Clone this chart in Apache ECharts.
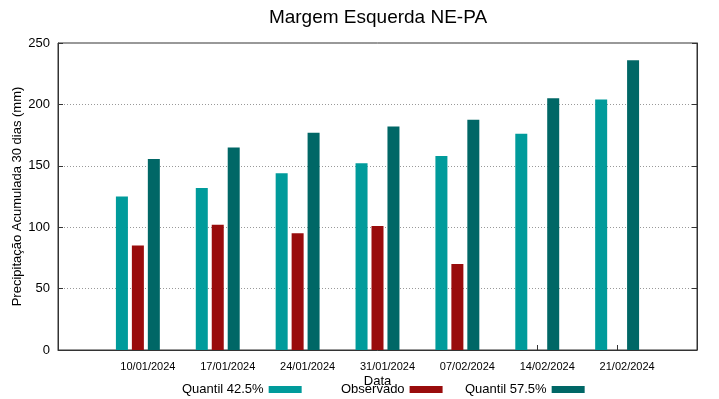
<!DOCTYPE html>
<html>
<head>
<meta charset="utf-8">
<script src="https://cdn.jsdelivr.net/npm/echarts@6/dist/echarts.min.js"></script>
<style>
  html, body { margin: 0; padding: 0; background: #fff; }
  #chart { width: 719px; height: 399px; }
</style>
</head>
<body>
<div id="chart"></div>
<script>
const dates = ['10/01/2024', '17/01/2024', '24/01/2024', '31/01/2024', '07/02/2024', '14/02/2024', '21/02/2024'];
const quantil425 = [125, 132, 144, 152, 158, 176, 204];
const observado = [85, 102, 95, 101, 70, null, null];
const quantil575 = [155.5, 165, 177, 182, 187.5, 205, 236];
const yTicks = [0, 50, 100, 150, 200, 250];

const font = 'Liberation Sans, Arial, sans-serif';
const colors = ['#009b9b', '#990c0c', '#006766'];

const chart = echarts.init(document.getElementById('chart'));

const toPoints = (arr) => arr.map((v, i) => (v == null ? [i, '-'] : [i, v]));

const legendBase = {
  top: 378,
  align: 'right',
  itemWidth: 33,
  itemHeight: 7,
  itemGap: 8,
  icon: 'rect',
  textStyle: { fontFamily: font, fontSize: 13, color: '#000' },
  selectedMode: false
};

const option = {
  animation: false,
  title: {
    text: 'Margem Esquerda NE-PA',
    left: 373,
    textAlign: 'center',
    top: 3,
    textStyle: { fontFamily: font, fontSize: 19, fontWeight: 'normal', color: '#000' }
  },
  legend: [
    Object.assign({ left: 177, data: ['Quantil 42.5%'] }, legendBase),
    Object.assign({ left: 336, data: ['Observado'] }, legendBase),
    Object.assign({ left: 460, data: ['Quantil 57.5%'] }, legendBase)
  ],
  grid: {
    left: 58, right: 22, top: 43, bottom: 49,
    outerBoundsMode: 'none',
    containLabel: false,
    show: true, borderColor: '#333', borderWidth: 1, backgroundColor: 'transparent'
  },
  xAxis: {
    type: 'value',
    min: -1,
    max: 7,
    interval: 1,
    name: 'Data',
    nameLocation: 'middle',
    nameGap: 25,
    nameMoveOverlap: false,
    nameTextStyle: { fontFamily: font, fontSize: 13, color: '#000' },
    axisLine: { show: true, onZero: false, lineStyle: { color: '#333' } },
    axisTick: { show: true, inside: true, length: 5, lineStyle: { color: '#333' } },
    splitLine: { show: false },
    axisLabel: {
      fontFamily: font, fontSize: 11, color: '#000', margin: 11,
      padding: [0, 0, 0, 20],
      formatter: (v) => (v >= 0 && v < dates.length ? dates[v] : '')
    }
  },
  yAxis: [
    {
      type: 'value',
      min: yTicks[0],
      max: yTicks[yTicks.length - 1],
      interval: 50,
      name: 'Precipitação Acumulada 30 dias (mm)',
      nameLocation: 'middle',
      nameGap: 34,
      nameMoveOverlap: false,
      nameTextStyle: { fontFamily: font, fontSize: 13, color: '#000' },
      axisLine: { show: true, onZero: false, lineStyle: { color: '#333' } },
      axisTick: { show: true, inside: true, length: 5, lineStyle: { color: '#333' } },
      axisLabel: { fontFamily: font, fontSize: 13, color: '#000', margin: 8 },
      splitLine: { show: true, lineStyle: { color: '#999', type: [1, 2], width: 1 } }
    },
    {
      type: 'value',
      position: 'right',
      min: 0,
      max: 250,
      interval: 50,
      axisLine: { show: true, onZero: false, lineStyle: { color: '#333' } },
      axisTick: { show: true, inside: true, length: 5, lineStyle: { color: '#333' } },
      axisLabel: { show: false },
      splitLine: { show: false }
    }
  ],
  series: [
    {
      name: 'Quantil 42.5%', type: 'bar', data: toPoints(quantil425),
      barWidth: 12, barGap: '33%', itemStyle: { color: colors[0] }
    },
    {
      name: 'Observado', type: 'bar', data: toPoints(observado),
      barWidth: 12, barGap: '33%', itemStyle: { color: colors[1] }
    },
    {
      name: 'Quantil 57.5%', type: 'bar', data: toPoints(quantil575),
      barWidth: 12, barGap: '33%', itemStyle: { color: colors[2] }
    }
  ]
};

chart.setOption(option);
</script>
</body>
</html>
